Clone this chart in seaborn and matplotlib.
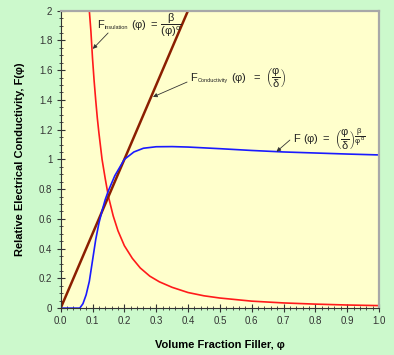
import numpy as np
import pandas as pd
import matplotlib
matplotlib.use("Agg")
import matplotlib.pyplot as plt
from matplotlib.ticker import MultipleLocator, FuncFormatter
import seaborn as sns

# values
phi_ins = [0.09, 0.095, 0.10, 0.105, 0.11, 0.115, 0.12, 0.13, 0.14, 0.15, 0.165, 0.18,
           0.20, 0.225, 0.25, 0.28, 0.31, 0.35, 0.40, 0.45, 0.50, 0.60, 0.70, 0.80, 0.90, 1.00]
f_ins = [2.0, 1.86, 1.68, 1.53, 1.40, 1.28, 1.18, 1.0, 0.87, 0.75, 0.62, 0.52,
         0.42, 0.335, 0.27, 0.215, 0.177, 0.14, 0.105, 0.083, 0.068, 0.047, 0.035, 0.027, 0.021, 0.017]

phi_cond = [0.0, 0.1, 0.2, 0.3, 0.4, 0.45]
f_cond = [0.0, 0.5, 1.0, 1.5, 2.0, 2.25]

phi_tot = [0.0, 0.06, 0.07, 0.08, 0.09, 0.10, 0.11, 0.12, 0.13, 0.14, 0.15, 0.17, 0.20,
           0.23, 0.26, 0.30, 0.35, 0.40, 0.50, 0.60, 0.70, 0.80, 0.90, 1.00]
f_tot = [0.0, 0.0, 0.03, 0.09, 0.18, 0.32, 0.46, 0.57, 0.655, 0.73, 0.79, 0.89, 1.0,
         1.05, 1.075, 1.085, 1.086, 1.083, 1.072, 1.06, 1.05, 1.043, 1.036, 1.03]

plt.rcParams['font.family'] = ['Liberation Sans', 'DejaVu Sans']
plt.rcParams['mathtext.fontset'] = 'custom'
plt.rcParams['mathtext.rm'] = 'Liberation Sans'
plt.rcParams['mathtext.it'] = 'Liberation Sans'
plt.rcParams['mathtext.bf'] = 'Liberation Sans:bold'

fig = plt.figure(figsize=(3.94, 3.55), dpi=100, facecolor='#ccf9cc')
ax = fig.add_axes([0.154, 0.132, 0.808, 0.838])
ax.set_facecolor('#ffffcc')

sns.lineplot(x=phi_ins, y=f_ins, ax=ax, color='#ff1a1a', lw=1.2)
sns.lineplot(x=phi_cond, y=f_cond, ax=ax, color='#8b1f00', lw=1.8)
sns.lineplot(x=phi_tot, y=f_tot, ax=ax, color='#1a1aff', lw=1.2)

ax.set_xlim(0, 1)
ax.set_ylim(0, 2)
ax.xaxis.set_major_locator(MultipleLocator(0.1))
ax.xaxis.set_minor_locator(MultipleLocator(0.02))
ax.yaxis.set_major_locator(MultipleLocator(0.2))
ax.yaxis.set_minor_locator(MultipleLocator(0.05))
ax.xaxis.set_major_formatter(FuncFormatter(lambda v, p: f'{v:.1f}'))
ax.yaxis.set_major_formatter(FuncFormatter(lambda v, p: f'{v:g}'))
ax.tick_params(which='major', direction='inout', length=6, width=0.8, labelsize=7,
               labelcolor='#333333', color='#333333', pad=3)
ax.tick_params(which='minor', direction='inout', length=3, width=0.6, color='#333333')

for s in ['left', 'bottom']:
    ax.spines[s].set_color('#333333')
    ax.spines[s].set_linewidth(0.8)
for s in ['top', 'right']:
    ax.spines[s].set_color('#a8a8a8')
    ax.spines[s].set_linewidth(1.6)

ax.set_xlabel('Volume Fraction Filler, φ', fontsize=8, fontweight='bold', labelpad=10)
ax.set_ylabel('Relative Electrical Conductivity, F(φ)', fontsize=8, fontweight='bold', labelpad=10)

arrow = dict(arrowstyle='-|>', color='#333333', lw=0.6, mutation_scale=6, shrinkA=0, shrinkB=0)


def formula(pos, sub, rest, start, target):
    # "F" + tiny subscript + the rest of the expression, plus a pointer arrow
    ax.annotate('', xy=target, xytext=start, arrowprops=arrow)
    t = ax.text(pos[0], pos[1], 'F', fontsize=8, color='#222222', va='center', ha='left')
    s = ax.annotate(sub, xy=(1, 0.2), xycoords=t, xytext=(0.6, 0), textcoords='offset points',
                    fontsize=4, color='#222222', va='center', ha='left')
    ax.annotate(rest, xy=(1, 0.5), xycoords=(s, t), xytext=(2, 0), textcoords='offset points',
                fontsize=8, color='#222222', va='center', ha='left')


formula((0.114, 1.904), 'insulation',
        r'$(\varphi)\ =\,\dfrac{\beta}{(\varphi)^{\alpha}}$',
        (0.149, 1.85), (0.101, 1.743))
formula((0.407, 1.548), 'Conductivity',
        r'$(\varphi)\ \ =\ \left(\dfrac{\varphi}{\delta}\right)$',
        (0.397, 1.52), (0.290, 1.42))
formula((0.730, 1.137), '',
        r'$(\varphi)\ =\ \left(\dfrac{\varphi}{\delta}\right)^{\dfrac{\beta}{\varphi^{\alpha}}}$',
        (0.72, 1.13), (0.678, 1.052))

plt.savefig('out.png', dpi=100, facecolor=fig.get_facecolor())
